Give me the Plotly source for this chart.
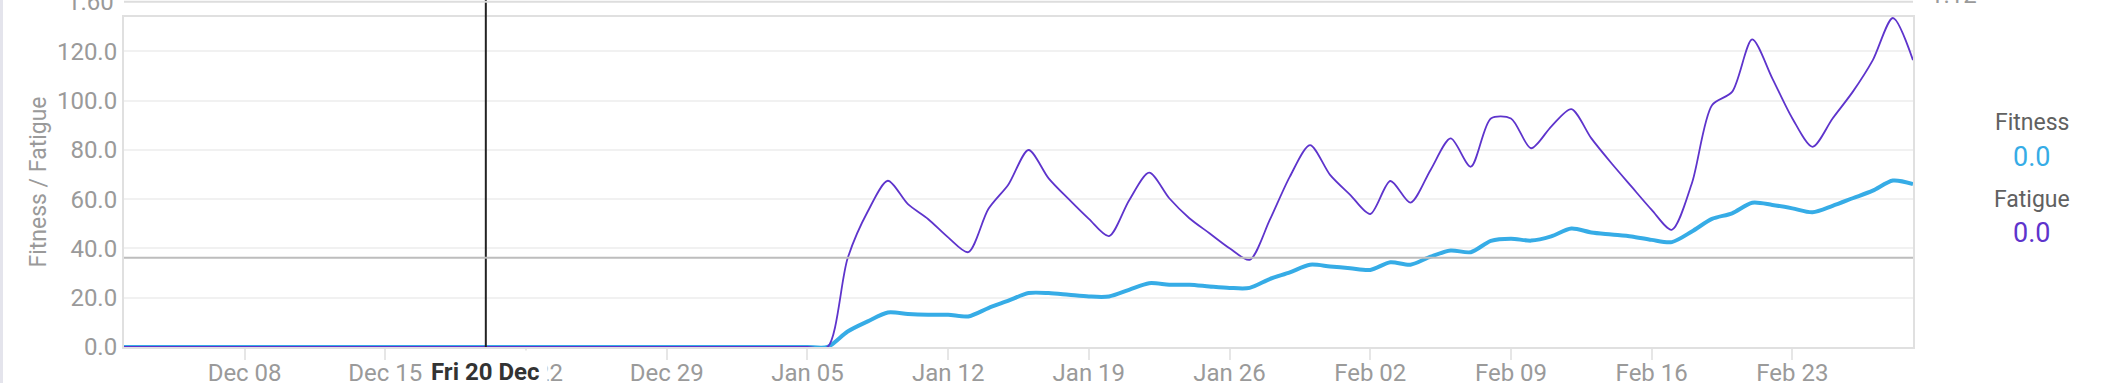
import pandas as pd
import plotly.graph_objects as go

# ---- data ----
start_date = "2024-12-02"
end_date = "2025-03-01"
dates = pd.date_range(start_date, end_date, freq="D")

fitness = [0, 0, 0, 0, 0, 0, 0, 0, 0, 0, 0, 0, 0, 0, 0, 0, 0, 0, 0, 0,
           0, 0, 0, 0, 0, 0, 0, 0, 0, 0, 0, 0, 0, 0, 0, 0,
           6.3, 10.4, 14.0, 13.4, 13.1, 13.1, 12.4, 15.8, 18.8, 21.9,
           21.9, 21.2, 20.5, 20.5, 23.2, 25.9, 25.3, 25.3, 24.6, 24.0,
           24.0, 27.6, 30.3, 33.4, 32.7, 32.0, 31.3, 34.4, 33.4, 36.7,
           39.2, 38.5, 43.1, 44.0, 43.2, 44.9, 48.1, 46.5, 45.7, 44.9,
           43.5, 42.6, 46.9, 52.0, 54.3, 58.6, 57.7, 56.3, 54.7, 57.3,
           60.4, 63.5, 67.6, 66.2]

fatigue = [0, 0, 0, 0, 0, 0, 0, 0, 0, 0, 0, 0, 0, 0, 0, 0, 0, 0, 0, 0,
           0, 0, 0, 0, 0, 0, 0, 0, 0, 0, 0, 0, 0, 0, 0, 0,
           36.0, 55.0, 67.5, 58.0, 52.0, 44.5, 38.5, 56.0, 66.0, 80.0,
           68.5, 60.0, 52.0, 45.0, 59.5, 70.8, 60.4, 52.3, 46.2, 40.1,
           35.4, 51.6, 69.2, 82.0, 69.9, 61.8, 54.0, 67.4, 58.6, 71.9,
           84.7, 73.2, 92.8, 92.8, 80.7, 89.5, 96.6, 84.7, 74.6, 65.1,
           55.7, 47.6, 66.5, 98.2, 103.6, 124.9, 109.1, 92.8, 81.3, 92.8,
           103.6, 116.5, 133.6, 116.5]

tick_dates = ["2024-12-08", "2024-12-15", "2024-12-22", "2024-12-29",
              "2025-01-05", "2025-01-12", "2025-01-19", "2025-01-26",
              "2025-02-02", "2025-02-09", "2025-02-16", "2025-02-23"]
tick_labels = ["Dec 08", "Dec 15", "Dec 22", "Dec 29", "Jan 05", "Jan 12",
               "Jan 19", "Jan 26", "Feb 02", "Feb 09", "Feb 16", "Feb 23"]
y_ticks = [0, 20, 40, 60, 80, 100, 120]
y_max = 134

hover_date = "2024-12-20"
hover_label = "Fri 20 Dec"
hover_value = 36.2
legend_names = ["Fitness", "Fatigue"]
legend_values = ["0.0", "0.0"]
top_left_label = "1.60"
top_right_label = "1.12"

BLUE = "#36ace6"
PURPLE = "#5e34cc"
GRAY_TXT = "#9a9a9a"
FONT = "Roboto"

W, H = 2123, 383
ML, MR, MT, MB = 124, 210, 17, 36
PW = W - ML - MR
PH = H - MT - MB


def px_to_paper_x(px):
    return (px - ML) / PW


def px_to_paper_y(py):
    return (H - MB - py) / PH


fig = go.Figure()
fig.add_trace(go.Scatter(x=dates, y=fitness, mode="lines", name="Fitness",
                         line=dict(color=BLUE, width=4, shape="spline", smoothing=0.8),
                         hoverinfo="skip"))
fig.add_trace(go.Scatter(x=dates, y=fatigue, mode="lines", name="Fatigue",
                         line=dict(color=PURPLE, width=1.8, shape="spline", smoothing=0.8),
                         hoverinfo="skip"))

fig.update_layout(
    width=W, height=H,
    margin=dict(l=ML, r=MR, t=MT, b=MB, pad=0, autoexpand=False),
    paper_bgcolor="white", plot_bgcolor="white",
    showlegend=False,
    font=dict(family=FONT, color=GRAY_TXT, size=22),
)

fig.update_xaxes(
    automargin=False,
    range=[start_date, end_date],
    tickvals=tick_dates, ticktext=tick_labels,
    ticks="outside", ticklen=11, tickwidth=2, tickcolor="#e6e6e6",
    ticklabelstandoff=-8,
    showgrid=False, zeroline=False,
    showline=True, linecolor="#e0e0e0", linewidth=2, mirror=True,
    tickfont=dict(family=FONT, size=24, color=GRAY_TXT),
)
fig.update_yaxes(
    automargin=False,
    range=[0, y_max],
    tickvals=y_ticks, tickformat=".1f",
    showgrid=True, gridcolor="#f1f1f1", gridwidth=2,
    zeroline=False,
    showline=True, linecolor="#e0e0e0", linewidth=2, mirror=True,
    ticks="", tickfont=dict(family=FONT, size=24, color=GRAY_TXT),
    title=dict(text="Fitness / Fatigue", font=dict(family=FONT, size=23, color=GRAY_TXT), standoff=4),
)

shapes = []
# crosshair vertical line
shapes.append(dict(type="line", xref="x", yref="paper", x0=hover_date, x1=hover_date,
                   y0=0, y1=px_to_paper_y(-2), line=dict(color="#222222", width=2)))
# crosshair horizontal line
shapes.append(dict(type="line", xref="paper", yref="y", x0=0, x1=1,
                   y0=hover_value, y1=hover_value, line=dict(color="#bdbdbd", width=2)))
# bottom axis of the chart above (cut off)
shapes.append(dict(type="line", xref="paper", yref="paper", x0=0, x1=1,
                   y0=px_to_paper_y(1.7), y1=px_to_paper_y(1.7), line=dict(color="#dddddd", width=2)))
# page edge on the left
shapes.append(dict(type="line", xref="paper", yref="paper", x0=px_to_paper_x(1.5), x1=px_to_paper_x(1.5),
                   y0=px_to_paper_y(H), y1=px_to_paper_y(0), line=dict(color="#e4e4ec", width=3)))
fig.update_layout(shapes=shapes)

annotations = []
annotations.append(dict(x=hover_date, xref="x", y=px_to_paper_y(372), yref="paper",
                        text="<b>" + hover_label + "</b>", showarrow=False,
                        font=dict(family=FONT, size=24, color="#333333"),
                        bgcolor="white", borderpad=7, xanchor="center", yanchor="middle"))
leg_x = px_to_paper_x(2032)
annotations.append(dict(x=leg_x, xref="paper", y=px_to_paper_y(123), yref="paper",
                        text=legend_names[0], showarrow=False,
                        font=dict(family=FONT, size=23, color="#616161"), xanchor="center", yanchor="middle"))
annotations.append(dict(x=leg_x, xref="paper", y=px_to_paper_y(157), yref="paper",
                        text=legend_values[0], showarrow=False,
                        font=dict(family=FONT, size=27, color=BLUE), xanchor="center", yanchor="middle"))
annotations.append(dict(x=leg_x, xref="paper", y=px_to_paper_y(199), yref="paper",
                        text=legend_names[1], showarrow=False,
                        font=dict(family=FONT, size=23, color="#616161"), xanchor="center", yanchor="middle"))
annotations.append(dict(x=leg_x, xref="paper", y=px_to_paper_y(233), yref="paper",
                        text=legend_values[1], showarrow=False,
                        font=dict(family=FONT, size=27, color=PURPLE), xanchor="center", yanchor="middle"))
annotations.append(dict(x=px_to_paper_x(116), xref="paper", y=px_to_paper_y(2), yref="paper",
                        text=top_left_label, showarrow=False,
                        font=dict(family=FONT, size=24, color=GRAY_TXT), xanchor="right", yanchor="middle"))
annotations.append(dict(x=px_to_paper_x(1928), xref="paper", y=px_to_paper_y(-5), yref="paper",
                        text=top_right_label, showarrow=False,
                        font=dict(family=FONT, size=24, color=GRAY_TXT), xanchor="left", yanchor="middle"))
fig.update_layout(annotations=annotations)

fig.write_html("out.html", config={"displayModeBar": False},
               post_script="document.body.style.margin='0px';")
